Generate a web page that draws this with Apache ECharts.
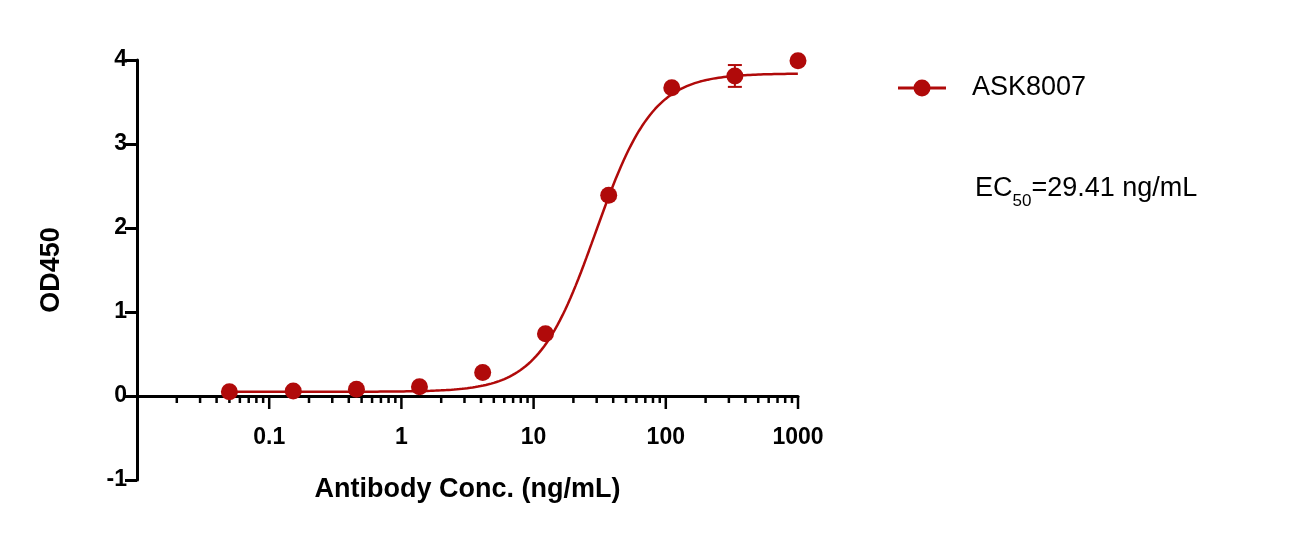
<!DOCTYPE html><html><head><meta charset="utf-8"><script src="https://cdn.jsdelivr.net/npm/echarts@6/dist/echarts.min.js"></script>
<style>body{margin:0}#c{width:1309px;height:536px}</style></head><body><div id="c"></div><script>
const conc=[0.05,0.152,0.457,1.37,4.12,12.3,37,111,333,1000];
const od=[0.05,0.06,0.08,0.11,0.28,0.74,2.39,3.67,3.81,3.99];
const errs=[0,0,0,0,0,0,0,0,0.13,0];
const fit={bottom:0.05,top:3.84,ec50:29.41,hill:2.0};
const xTickLabels=['0.1','1','10','100','1000'];
const yTicks=[-1,0,1,2,3,4];
const color='#b00a0a';
const curve=[];
for(let e=Math.log10(0.05);e<=3.0001;e+=0.02){const x=Math.pow(10,e);curve.push([x,fit.bottom+(fit.top-fit.bottom)/(1+Math.pow(fit.ec50/x,fit.hill))]);}
const minor=[];for(let d=-2;d<3;d++)for(let k=2;k<=9;k++)minor.push(k*Math.pow(10,d));
const major=[0.1,1,10,100,1000];
const chart=echarts.init(document.getElementById('c'));
const tickSeries=(arr,len)=>({type:'custom',silent:true,z:1,data:arr.map(v=>[v,0]),renderItem:(p,api)=>{const pt=api.coord([api.value(0),0]);return{type:'line',shape:{x1:pt[0],y1:pt[1],x2:pt[0],y2:pt[1]+len},style:{stroke:'#000',lineWidth:2.5}};}});
chart.setOption({animation:false,
grid:{left:137,right:511,top:60,bottom:56,outerBoundsMode:'none',containLabel:false},
xAxis:{type:'log',min:0.01,max:1000,logBase:10,axisLine:{onZero:true,lineStyle:{color:'#000',width:3}},axisTick:{show:false},splitLine:{show:false},
 axisLabel:{color:'#000',fontSize:23,fontWeight:'bold',fontFamily:'Liberation Sans',margin:-54,formatter:v=>{const s=String(+v.toPrecision(3));return xTickLabels.includes(s)?s:'';}},
 name:'Antibody Conc. (ng/mL)',nameLocation:'middle',nameGap:-4,nameTextStyle:{color:'#000',fontSize:27,fontWeight:'bold',fontFamily:'Liberation Sans'}},
yAxis:{type:'value',min:-1,max:4,interval:1,axisLine:{show:true,onZero:false,lineStyle:{color:'#000',width:3}},axisTick:{show:true,length:12,lineStyle:{width:3,color:'#000'}},splitLine:{show:false},
 axisLabel:{color:'#000',fontSize:23,fontWeight:'bold',fontFamily:'Liberation Sans',margin:10,formatter:v=>yTicks.includes(v)?String(v):''},
 name:'OD450',nameLocation:'middle',nameGap:72,nameTextStyle:{color:'#000',fontSize:27,fontWeight:'bold',fontFamily:'Liberation Sans'}},
series:[
 tickSeries(minor,7),tickSeries(major,13),
 {type:'line',data:curve,showSymbol:false,smooth:false,lineStyle:{color:color,width:2.5},z:3},
 {type:'custom',z:4,data:conc.map((c,i)=>[c,od[i],errs[i]]).filter(d=>d[2]>0),renderItem:(p,api)=>{const x=api.value(0),y=api.value(1),e=api.value(2);const a=api.coord([x,y+e]),b=api.coord([x,y-e]);return{type:'group',children:[
  {type:'line',shape:{x1:a[0],y1:a[1],x2:b[0],y2:b[1]},style:{stroke:color,lineWidth:2}},
  {type:'line',shape:{x1:a[0]-7,y1:a[1],x2:a[0]+7,y2:a[1]},style:{stroke:color,lineWidth:2}},
  {type:'line',shape:{x1:b[0]-7,y1:b[1],x2:b[0]+7,y2:b[1]},style:{stroke:color,lineWidth:2}}]};}},
 {type:'scatter',z:5,data:conc.map((c,i)=>[c,od[i]]),symbolSize:17,itemStyle:{color:color,opacity:1}}
],
graphic:[
 {type:'line',shape:{x1:898,y1:88,x2:946,y2:88},style:{stroke:color,lineWidth:3}},
 {type:'circle',shape:{cx:922,cy:88,r:8.5},style:{fill:color}},
 {type:'text',left:972,top:74,style:{text:'ASK8007',fontSize:27,fontFamily:'Liberation Sans',fill:'#000'}},
 {type:'text',left:975,top:175,style:{text:'{a|EC}{s|50}{a|=29.41 ng/mL}',rich:{a:{fontSize:27,fontFamily:'Liberation Sans',fill:'#000',verticalAlign:'top'},s:{fontSize:17,fontFamily:'Liberation Sans',fill:'#000',padding:[18,0,0,0]}}}}
]});
</script></body></html>
